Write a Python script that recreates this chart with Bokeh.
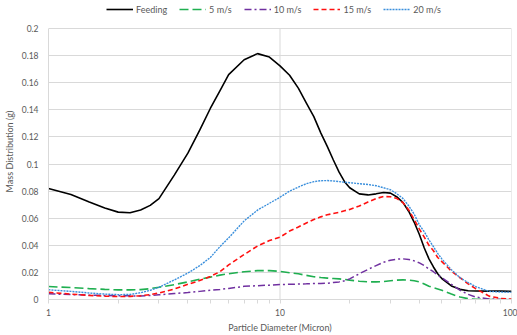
from bokeh.plotting import figure
from bokeh.models import Range1d, FixedTicker, CustomJSTickFormatter, Legend, LegendItem
from bokeh.embed import file_html
from bokeh.resources import INLINE

# Particle diameter (micron)
diameter = [1, 1.25, 1.5, 1.75, 2, 2.25, 2.5, 2.75, 3, 3.5, 4, 4.5, 5, 5.5, 6, 7, 8, 9, 10,
            11, 12, 13, 14, 15, 16, 17, 18, 19, 20, 22, 24, 26, 28, 30, 32, 34, 36, 38, 40,
            42, 44, 46, 48, 50, 55, 60, 65, 70, 80, 90, 100]

feeding = [0.082, 0.0775, 0.072, 0.0675, 0.0645, 0.064, 0.066, 0.0695, 0.0745, 0.092, 0.108,
           0.125, 0.141, 0.154, 0.166, 0.177, 0.1815, 0.179, 0.1725, 0.1655, 0.156, 0.145,
           0.135, 0.123, 0.113, 0.103, 0.094, 0.087, 0.0825, 0.078, 0.0772, 0.078, 0.079,
           0.0785, 0.0757, 0.0715, 0.065, 0.057, 0.048, 0.038, 0.030, 0.024, 0.019, 0.0155,
           0.010, 0.0075, 0.0065, 0.0063, 0.0062, 0.0062, 0.006]

v5 = [0.0096, 0.0088, 0.008, 0.0075, 0.0071, 0.0071, 0.0073, 0.008, 0.009, 0.011, 0.013,
      0.015, 0.0165, 0.018, 0.019, 0.0205, 0.0213, 0.0213, 0.0208, 0.0198, 0.019, 0.0178,
      0.0168, 0.0162, 0.0158, 0.0155, 0.0152, 0.0148, 0.0143, 0.0135, 0.013, 0.013, 0.0132,
      0.0138, 0.0143, 0.0145, 0.0143, 0.0138, 0.013, 0.0115, 0.0098, 0.0087, 0.0078, 0.0068,
      0.004, 0.0018, 0.0006, 0.0002, 0.0, 0.0, 0.0]

v10 = [0.0042, 0.0036, 0.0032, 0.003, 0.0028, 0.0027, 0.0026, 0.003, 0.0035, 0.0044, 0.0051,
       0.006, 0.0068, 0.0074, 0.0082, 0.0097, 0.0102, 0.0106, 0.011, 0.0112, 0.0114, 0.0116,
       0.0118, 0.0119, 0.012, 0.0125, 0.013, 0.0138, 0.0152, 0.019, 0.0222, 0.025, 0.0275,
       0.029, 0.0298, 0.030, 0.0295, 0.0285, 0.027, 0.025, 0.0225, 0.0205, 0.018, 0.016,
       0.0112, 0.0068, 0.0038, 0.0018, 0.0004, 0.0, 0.0]

v15 = [0.0053, 0.004, 0.003, 0.0025, 0.0022, 0.0023, 0.0028, 0.0036, 0.0048, 0.0078, 0.0112,
       0.014, 0.017, 0.0205, 0.0255, 0.0332, 0.0395, 0.0435, 0.046, 0.0505, 0.0535, 0.0565,
       0.059, 0.061, 0.0625, 0.0635, 0.0643, 0.0655, 0.0665, 0.069, 0.072, 0.0745, 0.076,
       0.0758, 0.0745, 0.0715, 0.066, 0.059, 0.052, 0.046, 0.040, 0.036, 0.031, 0.028,
       0.021, 0.016, 0.0115, 0.008, 0.0025, 0.0008, 0.0003]

v20 = [0.0072, 0.006, 0.0048, 0.004, 0.0036, 0.0037, 0.005, 0.0068, 0.009, 0.0145, 0.0195,
       0.025, 0.031, 0.039, 0.0455, 0.058, 0.066, 0.071, 0.0755, 0.080, 0.083, 0.0855,
       0.087, 0.0877, 0.0878, 0.0875, 0.087, 0.0866, 0.0862, 0.0855, 0.0849, 0.084, 0.0825,
       0.081, 0.078, 0.0745, 0.069, 0.063, 0.055, 0.050, 0.044, 0.039, 0.034, 0.030,
       0.022, 0.016, 0.0125, 0.0095, 0.006, 0.0055, 0.0054]

labels = ["Feeding", "5 m/s", "10 m/s", "15 m/s", "20 m/s"]
y_ticks = [0, 0.02, 0.04, 0.06, 0.08, 0.1, 0.12, 0.14, 0.16, 0.18, 0.2]
x_ticks = [1, 10, 100]
x_minor = [2, 3, 4, 5, 6, 7, 8, 9, 20, 30, 40, 50, 60, 70, 80, 90]

Y_MAX = y_ticks[-1]
FONT = "Lato"
GREY = "#595959"
GRID = "#d9d9d9"

# extra headroom above 0.2 holds the legend (as in the reference, legend above the plot)
p = figure(width=517, height=335, x_axis_type="log", output_backend="svg",
           toolbar_location=None, x_range=Range1d(1, 100), y_range=Range1d(0, 0.2185),
           min_border_left=45, min_border_right=6, min_border_top=3, min_border_bottom=36)
p.outline_line_color = None
p.background_fill_color = "white"

# vertical gridlines only up to the top of the value range
grid_x = x_ticks[1:]
p.segment(x0=grid_x, y0=[0] * len(grid_x), x1=grid_x, y1=[Y_MAX] * len(grid_x),
          line_color=GRID, line_width=1)

series = [
    (feeding, "#000000", "solid", 1.6),
    (v5, "#1FAF50", "9 4", 1.6),
    (v10, "#7030A0", "7 3 2 3", 1.5),
    (v15, "#FF1010", "5 3", 1.6),
    (v20, "#3A8FDC", "2 1", 1.4),
]
renderers = []
for vals, col, dash, w in series:
    r = p.line(diameter, vals, line_color=col, line_dash=dash, line_width=w)
    renderers.append(r)

# axes
p.xaxis.ticker = FixedTicker(ticks=x_ticks, minor_ticks=x_minor)
p.xaxis.formatter = CustomJSTickFormatter(code="return String(tick);")
p.yaxis.ticker = FixedTicker(ticks=y_ticks)
p.yaxis.formatter = CustomJSTickFormatter(code="return String(+tick.toFixed(2));")
p.yaxis.bounds = (0, Y_MAX)

for ax in (p.xaxis, p.yaxis):
    ax.axis_line_color = GRID
    ax.major_label_text_font = FONT
    ax.major_label_text_font_size = "8.5px"
    ax.major_label_text_color = GREY
    ax.axis_label_text_font = FONT
    ax.axis_label_text_font_size = "9px"
    ax.axis_label_text_font_style = "normal"
    ax.axis_label_text_color = GREY

p.xaxis.axis_label = "Particle Diameter (Micron)"
p.xaxis.major_tick_line_color = GRID
p.xaxis.minor_tick_line_color = GRID
p.xaxis.major_tick_in = 0
p.xaxis.major_tick_out = 4
p.xaxis.minor_tick_in = 0
p.xaxis.minor_tick_out = 4
p.xaxis.major_label_standoff = 5
p.xaxis.axis_label_standoff = 3

p.yaxis.axis_label = "Mass Distribution (g)"
p.yaxis.major_tick_line_color = None
p.yaxis.minor_tick_line_color = None
p.yaxis.major_tick_out = 0
p.yaxis.major_tick_in = 0
p.yaxis.major_label_standoff = 10
p.yaxis.axis_label_standoff = 4

p.xgrid.grid_line_color = None
p.ygrid.grid_line_color = GRID
p.ygrid.grid_line_width = 1

legend = Legend(items=[LegendItem(label=l, renderers=[r]) for l, r in zip(labels, renderers)],
                orientation="horizontal", location=(58, 284),
                glyph_width=27, glyph_height=12, label_height=12, label_standoff=3,
                spacing=12, padding=0, margin=0, border_line_color=None,
                background_fill_alpha=0,
                label_text_font=FONT, label_text_font_size="9px", label_text_color=GREY)
p.add_layout(legend, "center")

open("out.html", "w").write(file_html(p, INLINE))
